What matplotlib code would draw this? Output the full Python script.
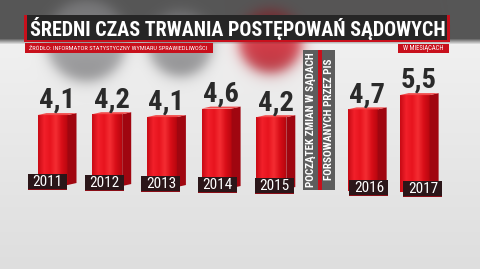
import numpy as np
import matplotlib
matplotlib.use("Agg")
import matplotlib.pyplot as plt
from matplotlib import font_manager as fm
from matplotlib.patches import Rectangle, Polygon
from matplotlib.colors import LinearSegmentedColormap

# data
years = ["2011", "2012", "2013", "2014", "2015", "2016", "2017"]
months = [4.1, 4.2, 4.1, 4.6, 4.2, 4.7, 5.5]
value_labels = ["4,1", "4,2", "4,1", "4,6", "4,2", "4,7", "5,5"]
slots = [0, 1, 2, 3, 4, 5.67, 6.62]  # gap before 2016 for the note

title = "ŚREDNI CZAS TRWANIA POSTĘPOWAŃ SĄDOWYCH"
source = "ŹRÓDŁO: INFORMATOR STATYSTYCZNY WYMIARU SPRAWIEDLIWOŚCI"
unit = "W MIESIĄCACH"
note = ["POCZĄTEK ZMIAN W SĄDACH", "FORSOWANYCH PRZEZ PIS"]


def pick(names):
    for n in names:
        try:
            fm.findfont(fm.FontProperties(family=n), fallback_to_default=False)
            return n
        except ValueError:
            pass
    return "DejaVu Sans"


cond = pick(["Liberation Sans Narrow", "Roboto Condensed", "DejaVu Sans Condensed", "DejaVu Sans"])

W, H = 480, 269
fig = plt.figure(figsize=(W / 100, H / 100), dpi=100)

# ---- background (pixel coords) ----
bg = fig.add_axes([0, 0, 1, 1])
bg.set_xlim(0, W)
bg.set_ylim(H, 0)
bg.axis("off")

yy, xx = np.mgrid[0:H, 0:W].astype(float)
light = 240 - 18 * np.clip((yy - 45) / (H - 45), 0, 1)
img = np.dstack([light, light, light])
band = np.full((H, W, 3), 86.0)
# blurred spheres behind the title: (cx, cy, r, colour in light area, colour in dark band)
balls = [(86, 40, 40, (168, 168, 170), (122, 122, 124)),
         (180, 43, 32, (164, 164, 166), (118, 118, 120)),
         (270, 41, 31, (214, 62, 74), (120, 42, 48))]
for cx, cy, r, col, dcol in balls:
    d = np.hypot(xx - cx, yy - cy)
    a = 1 / (1 + np.exp((d - r) / 4.0))
    shade = 1 + 0.15 * (cy - yy) / r
    for c in range(3):
        img[..., c] = img[..., c] * (1 - a) + col[c] * shade * a
        band[..., c] = band[..., c] * (1 - a) + dcol[c] * a
t = np.clip((yy - 38) / 6, 0, 1)[..., None]
img = band * (1 - t) + img * t
bg.imshow(np.clip(img, 0, 255) / 255, extent=(0, W, H, 0), aspect="auto", zorder=0)

red = "#c8101c"
# title bar
bg.add_patch(Rectangle((24, 15), 426, 26, fc="#262626", ec="none", zorder=1))
bg.add_patch(Rectangle((24, 15), 2.5, 26, fc=red, ec="none", zorder=1))
bg.add_patch(Rectangle((447, 15), 3, 26, fc=red, ec="none", zorder=1))
bg.add_patch(Rectangle((24, 40), 426, 2, fc=red, ec="none", zorder=1))
bg.text(237.5, 29, title, color="white", fontsize=14.4, fontweight="bold",
        family=[cond, "DejaVu Sans"], ha="center", va="center", zorder=2)

bg.add_patch(Rectangle((25, 43), 188, 10, fc=red, ec="none", zorder=1))
bg.text(29, 48.3, source, color="white", fontsize=4.6, family=[cond, "DejaVu Sans"],
        ha="left", va="center", zorder=2)
bg.add_patch(Rectangle((398, 44), 51, 8.5, fc=red, ec="none", zorder=1))
bg.text(423.5, 48.5, unit, color="white", fontsize=4.8, family=[cond, "DejaVu Sans"],
        ha="center", va="center", zorder=2)

# vertical note banner
bg.add_patch(Rectangle((303, 50), 32, 140, fc="#5d5d5d", ec="none", zorder=1))
bg.add_patch(Rectangle((318, 50), 4, 140, fc=red, ec="none", zorder=1))
bg.text(311, 120, note[0], color="white", fontsize=8, fontweight="bold", rotation=90,
        family=[cond, "DejaVu Sans"], ha="center", va="center", zorder=2)
bg.text(328.5, 119, note[1], color="white", fontsize=8, fontweight="bold", rotation=90,
        family=[cond, "DejaVu Sans"], ha="center", va="center", zorder=2)

# ---- bars (data coords) ----
ax = fig.add_axes([0, 0, 1, 1])
ax.patch.set_visible(False)
ax.axis("off")
px_unit = 19.0
base_px = 193
slot_px, x0_px = 54.7, 57
xlim = (-x0_px / slot_px, (W - x0_px) / slot_px)
ylim = (-(H - base_px) / px_unit, base_px / px_unit)

fw = 30 / slot_px
dx = 9 / slot_px
dy = 2 / px_unit
floor = 0.42
x = np.array(slots)
v = np.array(months)
tilt = -x / px_unit
lefts = x - (fw + dx) / 2

face = LinearSegmentedColormap.from_list(
    "face", ["#c80a14", "#f2202a", "#e8141e", "#f42c32", "#d80e18", "#b8070f"])
grad = np.linspace(0, 1, 64)[None, :]

bars = ax.bar(lefts, v - floor, bottom=tilt + floor, width=fw, align="edge",
              color="#d80d18", edgecolor="none", zorder=2)
for b, l, top, bot in zip(bars, lefts, tilt + v, tilt + floor):
    im = ax.imshow(grad, extent=(l, l + fw, bot, top), aspect="auto", cmap=face, zorder=2.1)
    im.set_clip_path(b)
    r = l + fw
    ax.add_patch(Polygon([(r, bot), (r + dx, bot + dy), (r + dx, top + dy), (r, top)],
                         closed=True, fc="#a00610", ec="none", zorder=2.2))
    ax.add_patch(Polygon([(l, top), (r, top), (r + dx, top + dy), (l + dx, top + dy)],
                         closed=True, fc="#f24a4a", ec="none", zorder=2.2))

for xi, top, lab in zip(x, tilt + v, value_labels):
    ax.text(xi, top + 0.37, lab, color="#2a2a2a", fontsize=20.5, fontweight="bold",
            family=[cond, "DejaVu Sans"], ha="center", va="baseline", zorder=3)

# year boxes
bw, bh = 39 / slot_px, 16 / px_unit
for xi, ti, yr in zip(x, tilt, years):
    cx = xi + (-9.5 + 2 * xi) / slot_px
    y0 = ti + 3 / px_unit
    ax.add_patch(Rectangle((cx - bw / 2, y0), bw, bh, fc="#2b1619", ec="none", zorder=4))
    ax.add_patch(Rectangle((cx - bw / 2, y0), bw, 1 / px_unit, fc="#8a0d16", ec="none", zorder=4))
    ax.text(cx, y0 + bh / 2, yr, color="white", fontsize=11,
            family=[cond, "DejaVu Sans"], ha="center", va="center", zorder=5)

ax.set_xlim(*xlim)
ax.set_ylim(*ylim)

fig.savefig("out.png", dpi=100)
